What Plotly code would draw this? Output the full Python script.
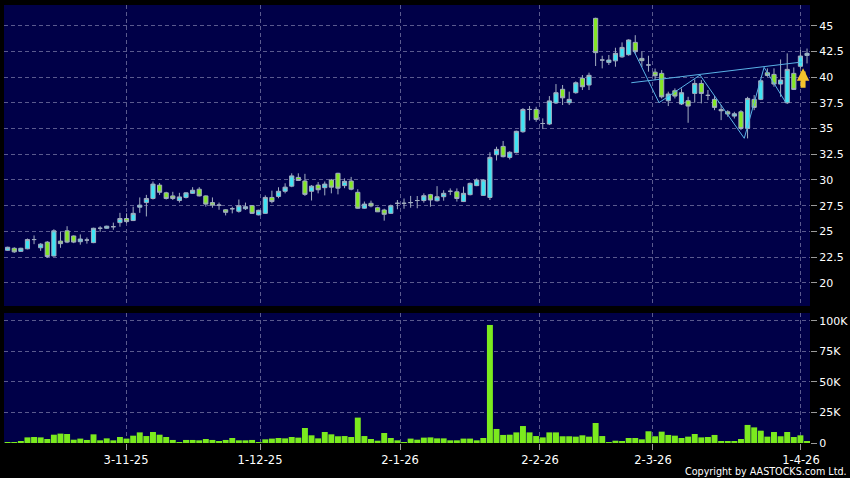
import plotly.graph_objects as go

# ---------------- data ----------------
tick_labels = ["3-11-25", "1-12-25", "2-1-26", "2-2-26", "2-3-26", "1-4-26"]
tick_bar_pos = [17.92, 38.2, 59.39, 80.58, 97.68, 120.08]   # bar position of each date label

open_ = [23.15, 23.35, 23.05, 23.3, 24.2, 23.4, 23.95, 22.6, 24.05, 25.05,
         24.55, 23.99, 24.15, 23.9, 25.3, 25.3, 25.45, 25.85, 26.25, 26.05,
         27.35, 27.8, 28.2, 29.5, 28.75, 28.45, 28.0, 28.3, 28.7, 29.1,
         28.45, 27.8, 27.55, 27.1, 27.2, 26.95, 27.2, 27.5, 26.6, 26.75,
         28.3, 28.4, 28.9, 29.4, 30.25, 29.9, 28.9, 29.5, 29.25, 30.0,
         30.65, 29.45, 29.9, 28.8, 27.25, 27.73, 27.3, 27.08, 26.75, 27.73,
         27.73, 27.8, 28.0, 28.0, 28.57, 27.98, 28.37, 28.9, 28.85, 27.9,
         28.57, 29.45, 28.5, 28.3, 32.46, 33.27, 32.2, 32.66, 34.7, 36.87,
         36.87, 35.5, 35.45, 37.5, 38.83, 37.52, 38.5, 39.9, 39.25, 45.74,
         41.68, 41.45, 41.6, 41.99, 42.2, 43.4, 41.84, 41.2, 40.5, 40.38,
         37.72, 38.69, 37.4, 37.72, 38.43, 39.4, 38.24, 37.85, 36.87, 36.64,
         36.22, 36.64, 35.02, 37.85, 37.85, 40.44, 40.28, 39.34, 37.52, 40.38,
         41.07, 42.13]
high = [23.5, 23.45, 23.4, 24.3, 24.6, 23.85, 24.05, 25.2, 24.95, 25.5,
        24.6, 24.7, 24.4, 25.35, 25.5, 25.55, 25.85, 26.8, 26.75, 27.4,
        28.3, 28.55, 29.85, 29.7, 28.85, 28.85, 28.75, 28.8, 29.3, 29.3,
        28.5, 28.3, 27.8, 27.15, 27.4, 28.1, 27.8, 27.55, 27.1, 28.5,
        28.96, 29.29, 29.68, 30.65, 30.65, 30.6, 29.5, 29.8, 29.85, 30.1,
        30.7, 30.16, 30.3, 29.1, 27.9, 27.99, 27.4, 27.2, 27.6, 28.05,
        28.2, 28.45, 28.44, 28.7, 28.65, 29.4, 29.0, 29.18, 29.18, 29.35,
        29.75, 30.16, 30.05, 32.7, 33.24, 33.8, 32.8, 34.8, 37.0, 37.2,
        37.13, 36.0, 38.17, 39.34, 39.25, 38.6, 39.6, 40.22, 40.45, 45.8,
        42.1, 42.17, 42.88, 43.4, 43.7, 44.1, 42.49, 42.1, 40.85, 40.7,
        38.6, 38.92, 38.92, 38.1, 39.8, 39.73, 38.76, 38.17, 37.3, 36.8,
        36.64, 36.8, 38.1, 38.27, 39.8, 40.87, 40.87, 41.74, 42.33, 40.96,
        42.65, 42.8]
low = [23.1, 22.9, 23.0, 23.25, 23.75, 23.1, 22.4, 22.55, 23.4, 23.85,
       23.85, 23.7, 23.8, 23.85, 24.95, 25.25, 25.15, 25.45, 25.8, 26.0,
       26.8, 26.45, 28.1, 28.55, 28.1, 28.05, 27.8, 28.2, 28.65, 28.4,
       27.4, 27.3, 27.1, 26.55, 26.75, 26.82, 27.08, 26.7, 26.55, 26.7,
       27.73, 28.22, 28.7, 29.3, 29.9, 28.45, 28.0, 28.7, 28.5, 28.7,
       28.6, 29.2, 29.0, 27.2, 27.2, 27.34, 26.9, 26.04, 26.7, 27.15,
       27.2, 27.3, 27.25, 27.79, 27.4, 27.9, 27.98, 28.53, 27.9, 27.85,
       28.5, 29.4, 28.45, 28.05, 31.9, 32.2, 32.0, 32.6, 34.6, 35.8,
       35.67, 34.96, 35.35, 37.4, 37.3, 37.3, 38.4, 38.76, 38.76, 41.1,
       40.87, 41.2, 41.03, 41.9, 42.1, 42.3, 41.0, 40.55, 39.73, 37.94,
       37.2, 37.94, 37.3, 35.57, 37.52, 37.46, 37.78, 36.8, 35.83, 36.16,
       35.99, 34.86, 34.05, 36.8, 37.78, 40.05, 39.08, 38.1, 37.4, 38.76,
       40.87, 41.35]
close = [23.45, 23.0, 23.35, 24.2, 24.2, 23.75, 22.55, 25.05, 23.8, 23.95,
         23.95, 24.25, 24.15, 25.3, 25.3, 25.5, 25.45, 26.25, 25.95, 26.75,
         27.55, 28.2, 29.6, 28.8, 28.2, 28.2, 28.35, 28.75, 29.0, 28.45,
         27.65, 27.55, 27.55, 26.85, 27.2, 27.5, 27.4, 26.75, 27.05, 28.3,
         27.9, 28.9, 29.3, 30.4, 29.95, 28.6, 29.4, 29.05, 29.6, 29.3,
         29.2, 29.87, 29.1, 27.25, 27.65, 27.47, 26.9, 26.66, 27.5, 27.73,
         27.73, 27.8, 28.0, 28.47, 28.05, 28.37, 28.7, 28.9, 28.2, 28.7,
         29.67, 30.0, 30.0, 32.2, 32.98, 32.27, 32.7, 34.74, 36.87, 36.87,
         35.9, 35.5, 37.7, 38.5, 38.0, 37.85, 39.47, 39.08, 40.19, 42.4,
         41.68, 41.68, 42.33, 42.91, 43.63, 42.5, 41.62, 41.2, 40.15, 38.1,
         38.37, 38.17, 38.5, 37.2, 39.4, 38.43, 38.24, 37.07, 36.74, 36.42,
         36.45, 35.02, 37.94, 37.07, 39.66, 40.18, 39.34, 39.73, 40.77, 38.82,
         42.07, 42.33]
volume_k = [0.5, 0.2, 1.6, 4.6, 4.9, 4.6, 3.3, 6.8, 7.7, 7.4,
            2.7, 3.6, 2.5, 7.1, 2.2, 3.8, 2.2, 4.9, 3.6, 6.0,
            8.7, 5.7, 9.0, 6.8, 4.9, 2.5, 0.8, 2.5, 2.5, 2.2,
            3.3, 2.5, 1.1, 2.5, 4.1, 2.2, 2.2, 2.5, 0.8, 3.0,
            3.6, 4.1, 3.8, 4.9, 4.4, 12.3, 6.3, 3.8, 9.0, 7.1,
            5.5, 5.7, 4.9, 20.8, 5.7, 3.3, 1.9, 8.2, 4.1, 2.2,
            0.5, 3.6, 2.7, 4.4, 4.6, 3.8, 3.8, 2.2, 2.2, 3.6,
            3.6, 2.2, 4.1, 96.7, 11.5, 6.6, 6.8, 8.7, 13.9, 8.7,
            5.7, 4.6, 8.7, 8.7, 5.5, 5.5, 5.2, 6.3, 5.2, 16.4,
            5.7, 0.2, 1.9, 1.4, 4.1, 4.1, 3.0, 9.6, 5.5, 9.3,
            6.6, 6.0, 4.1, 5.2, 7.4, 4.6, 4.9, 6.6, 1.6, 1.6,
            1.6, 3.3, 14.8, 12.8, 10.1, 5.2, 9.0, 5.5, 9.0, 4.9,
            6.3, 1.6]

price_ticks = [20, 22.5, 25, 27.5, 30, 32.5, 35, 37.5, 40, 42.5, 45]
volume_ticks = [0, 25000, 50000, 75000, 100000]
volume_tick_labels = ["0", "25K", "50K", "75K", "100K"]

# chart pattern overlay (bar position, price)
zigzag_x = [94.8, 98.6, 104.8, 111.5, 114.5, 117.8]
zigzag_y = [42.55, 37.53, 40.22, 34.06, 40.97, 37.53]
neckline_x = [94.4, 120.4]
neckline_y = [39.47, 41.5]
breakout_x = 120.4
breakout_y = 40.87

# ---------------- figure ----------------
idx = list(range(len(close)))
volume = [v * 1000 for v in volume_k]

GRID = "#5A5A8E"
FONT = dict(family="DejaVu Sans", size=11, color="#FFFFFF")
XFONT = dict(family="DejaVu Sans", size=11.5, color="#FFFFFF")
CFONT = dict(family="DejaVu Sans", size=9.6, color="#FFFFFF")

fig = go.Figure()
fig.add_trace(go.Candlestick(
    x=idx, open=open_, high=high, low=low, close=close,
    xaxis="x", yaxis="y",
    increasing=dict(fillcolor="#3DE4F4", line=dict(color="#A2AEC0", width=1)),
    decreasing=dict(fillcolor="#84E824", line=dict(color="#A2AEC0", width=1)),
    whiskerwidth=0, hoverinfo="skip",
))
fig.add_trace(go.Scatter(x=neckline_x, y=neckline_y, mode="lines",
                         line=dict(color="#5AB2E6", width=1), xaxis="x", yaxis="y", hoverinfo="skip"))
fig.add_trace(go.Scatter(x=zigzag_x, y=zigzag_y, mode="lines",
                         line=dict(color="#5AB2E6", width=1), xaxis="x", yaxis="y", hoverinfo="skip"))
fig.add_trace(go.Bar(x=idx, y=volume, xaxis="x2", yaxis="y2",
                     marker=dict(color="#7BEA1E", line=dict(width=0)), hoverinfo="skip"))

xr = [-0.55, len(close) - 0.55]
common_x = dict(range=xr, tickmode="array", tickvals=tick_bar_pos, showgrid=True, gridcolor=GRID,
                griddash="4px,3px", gridwidth=1, zeroline=False, showline=False,
                rangeslider=dict(visible=False), fixedrange=True)
fig.update_layout(
    width=850, height=478,
    margin=dict(l=4, r=40, t=5, b=35, autoexpand=False),
    paper_bgcolor="#000000", plot_bgcolor="#000048",
    showlegend=False, hovermode=False,
    font=FONT,
    boxgap=0.1, bargap=0.1,
    xaxis=dict(domain=[0, 1], anchor="y", showticklabels=False, ticks="", **common_x),
    xaxis2=dict(domain=[0, 1], anchor="y2", ticktext=tick_labels, ticks="outside", ticklen=6,
                tickcolor="#9A9A9A", tickfont=XFONT, automargin=False, **common_x),
    yaxis=dict(domain=[0.3128, 1], side="right", anchor="x", range=[17.73, 47.04],
               tickmode="array", tickvals=price_ticks, ticks="outside", ticklen=6,
               tickcolor="#9A9A9A", tickfont=FONT, showgrid=True, gridcolor=GRID,
               griddash="4px,3px", zeroline=False, showline=False, automargin=False),
    yaxis2=dict(domain=[0, 0.2968], side="right", anchor="x2", range=[0, 106500],
                tickmode="array", tickvals=volume_ticks, ticktext=volume_tick_labels,
                ticks="outside", ticklen=6, tickcolor="#9A9A9A", tickfont=FONT,
                showgrid=True, gridcolor=GRID, griddash="4px,3px", zeroline=False,
                showline=False, automargin=False),
)

fig.add_annotation(x=breakout_x, y=breakout_y, xref="x", yref="y", ax=0, ay=21,
                   axref="pixel", ayref="pixel", text="", showarrow=True,
                   arrowhead=2, arrowwidth=5, arrowsize=0.5, arrowcolor="#F4C22C")
fig.add_annotation(x=0.9454, y=-0.066, xref="paper", yref="paper", xanchor="center",
                   yanchor="middle", text="Copyright by AASTOCKS.com Ltd.", showarrow=False,
                   font=CFONT)

fig.write_html("out.html", config={"displayModeBar": False},
               post_script="document.body.style.margin='0';document.body.style.background='#000';")
